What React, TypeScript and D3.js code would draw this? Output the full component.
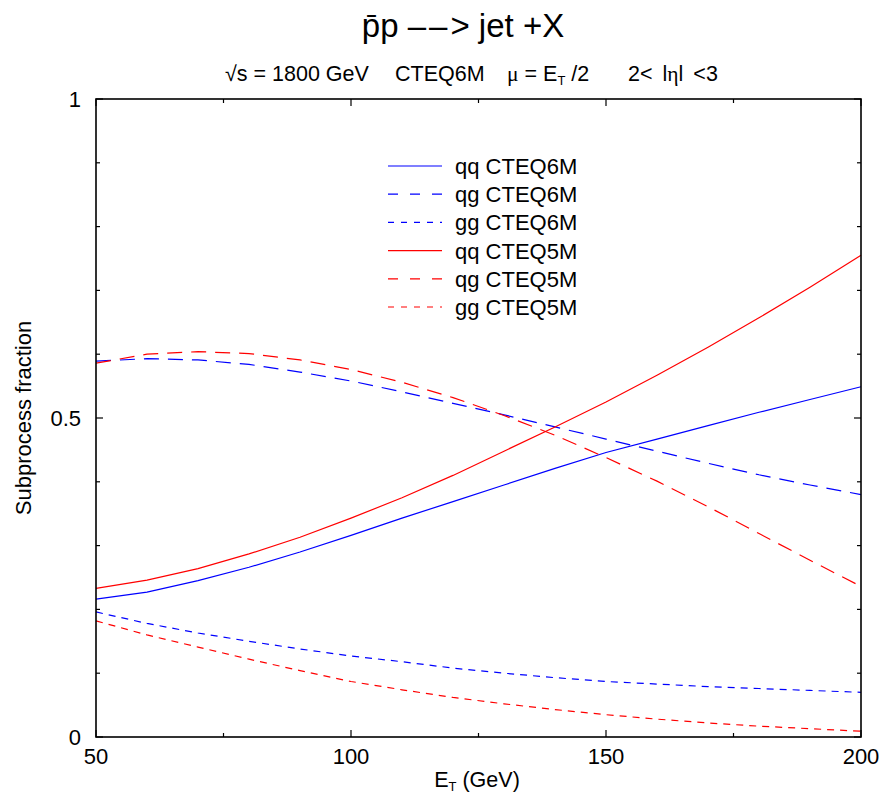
import React from "react";
import * as d3 from "d3";

const energies = [50, 60, 70, 80, 90, 100, 110, 120, 130, 140, 150, 160, 170, 180, 190, 200];
const qqCTEQ6M = [0.216, 0.227, 0.245, 0.266, 0.290, 0.316, 0.343, 0.369, 0.395, 0.421, 0.446, 0.467, 0.488, 0.509, 0.529, 0.549];
const qgCTEQ6M = [0.589, 0.593, 0.591, 0.584, 0.572, 0.558, 0.541, 0.523, 0.505, 0.486, 0.467, 0.448, 0.429, 0.411, 0.395, 0.380];
const ggCTEQ6M = [0.196, 0.178, 0.163, 0.150, 0.138, 0.127, 0.118, 0.108, 0.100, 0.093, 0.087, 0.083, 0.079, 0.076, 0.073, 0.070];
const qqCTEQ5M = [0.233, 0.246, 0.264, 0.287, 0.313, 0.343, 0.375, 0.410, 0.448, 0.486, 0.525, 0.567, 0.611, 0.657, 0.705, 0.755];
const qgCTEQ5M = [0.586, 0.600, 0.604, 0.601, 0.591, 0.576, 0.556, 0.532, 0.504, 0.473, 0.438, 0.401, 0.361, 0.319, 0.277, 0.236];
const ggCTEQ5M = [0.182, 0.160, 0.141, 0.122, 0.104, 0.087, 0.074, 0.062, 0.052, 0.043, 0.035, 0.028, 0.022, 0.017, 0.013, 0.009];

const xMajorTicks = [50, 100, 150, 200];
const xMinorTicks = [75, 125, 175];
const yMajorTicks = [0, 0.5, 1];
const yMinorTicks = [0.1, 0.2, 0.3, 0.4, 0.6, 0.7, 0.8, 0.9];
const yTickLabels = ["0", "0.5", "1"];

const seriesNames = ["qq CTEQ6M", "qg CTEQ6M", "gg CTEQ6M", "qq CTEQ5M", "qg CTEQ5M", "gg CTEQ5M"];
const seriesValues = [qqCTEQ6M, qgCTEQ6M, ggCTEQ6M, qqCTEQ5M, qgCTEQ5M, ggCTEQ5M];
const seriesColors = ["#0000ff", "#0000ff", "#0000ff", "#ff0000", "#ff0000", "#ff0000"];
const seriesDash = ["none", "15,9", "7,6", "none", "15,9", "7,6"];
const legendDash = ["none", "10,12", "6,7", "none", "10,12", "6,7"];

const FONT = "'Liberation Sans', Arial, Helvetica, sans-serif";

export default function App() {
  const left = 96, right = 861, top = 99, bottom = 737;
  const x = d3.scaleLinear().domain([50, 200]).range([left, right]);
  const y = d3.scaleLinear().domain([0, 1]).range([bottom, top]);
  const line = d3
    .line<[number, number]>()
    .x((d) => x(d[0]))
    .y((d) => y(d[1]))
    .curve(d3.curveLinear);

  const legendY0 = 166;
  const legendStep = 28.2;

  return (
    <svg
      width={894}
      height={802}
      style={{ position: "absolute", left: 0, top: 0, background: "#fff" }}
      fontFamily={FONT}
    >
      <rect x={0} y={0} width={894} height={802} fill="#fff" />
      {/* Title */}
      <text x={463} y={37} fontSize={33} textAnchor="middle" fill="#000">
        <tspan>{"p\u0304p "}</tspan>
        <tspan letterSpacing={3}>{"\u2013\u2013"}</tspan>
        <tspan>{"> jet +X"}</tspan>
      </text>
      {/* Subtitle */}
      <g fontSize={21.5} fill="#000">
        <text x={225} y={81}>{"\u221As = 1800 GeV"}</text>
        <text x={395} y={81}>CTEQ6M</text>
        <text x={507} y={81}>
          <tspan fontFamily="'Liberation Serif', serif">{"\u03BC"}</tspan>
          <tspan>{" = E"}</tspan>
          <tspan fontSize={13} dy={4}>T</tspan>
          <tspan dy={-4}>{" /2"}</tspan>
        </text>
        <text x={628} y={81}>
          <tspan>{"2<"}</tspan>
          <tspan dx={10}>{"l"}</tspan>
          <tspan fontFamily="'Liberation Serif', serif">{"\u03B7"}</tspan>
          <tspan>{"l"}</tspan>
          <tspan dx={10}>{"<3"}</tspan>
        </text>
      </g>

      {/* Curves */}
      <g>
        {seriesValues.map((vals, i) => (
          <path
            key={seriesNames[i] + i}
            d={line(energies.map((e, j) => [e, vals[j]] as [number, number])) || ""}
            fill="none"
            stroke={seriesColors[i]}
            strokeWidth={1.2}
            strokeDasharray={seriesDash[i]}
          />
        ))}
      </g>

      {/* Frame */}
      <rect x={left} y={top} width={right - left} height={bottom - top} fill="none" stroke="#000" strokeWidth={1.6} />

      {/* Ticks */}
      <g stroke="#000" strokeWidth={1.2}>
        {xMajorTicks.map((t) => (
          <g key={"xm" + t}>
            <line x1={x(t)} x2={x(t)} y1={bottom} y2={bottom - 7} />
            <line x1={x(t)} x2={x(t)} y1={top} y2={top + 7} />
          </g>
        ))}
        {xMinorTicks.map((t) => (
          <g key={"xn" + t}>
            <line x1={x(t)} x2={x(t)} y1={bottom} y2={bottom - 4} />
            <line x1={x(t)} x2={x(t)} y1={top} y2={top + 4} />
          </g>
        ))}
        {yMajorTicks.map((t) => (
          <g key={"ym" + t}>
            <line x1={left} x2={left + 7} y1={y(t)} y2={y(t)} />
            <line x1={right} x2={right - 7} y1={y(t)} y2={y(t)} />
          </g>
        ))}
        {yMinorTicks.map((t) => (
          <g key={"yn" + t}>
            <line x1={left} x2={left + 4} y1={y(t)} y2={y(t)} />
            <line x1={right} x2={right - 4} y1={y(t)} y2={y(t)} />
          </g>
        ))}
      </g>

      {/* Tick labels */}
      <g fontSize={22} fill="#000">
        {xMajorTicks.map((t) => (
          <text key={"xl" + t} x={x(t)} y={764} textAnchor="middle">
            {String(t)}
          </text>
        ))}
        {yMajorTicks.map((t, i) => (
          <text key={"yl" + t} x={81} y={y(t) + 8} textAnchor="end">
            {yTickLabels[i]}
          </text>
        ))}
      </g>

      {/* Axis titles */}
      <text x={477} y={787} fontSize={21.5} textAnchor="middle" fill="#000">
        <tspan>E</tspan>
        <tspan fontSize={13} dy={4}>T</tspan>
        <tspan dy={-4}>{" (GeV)"}</tspan>
      </text>
      <text
        transform={`translate(31, ${(top + bottom) / 2}) rotate(-90)`}
        fontSize={22}
        textAnchor="middle"
        fill="#000"
      >
        Subprocess fraction
      </text>

      {/* Legend */}
      <g>
        {seriesNames.map((name, i) => {
          const ly = legendY0 + i * legendStep;
          return (
            <g key={"lg" + i}>
              <line
                x1={388}
                x2={442}
                y1={ly}
                y2={ly}
                stroke={seriesColors[i]}
                strokeWidth={1.2}
                strokeDasharray={legendDash[i]}
              />
              <text x={455} y={ly + 8} fontSize={22} fill="#000">
                {name}
              </text>
            </g>
          );
        })}
      </g>
    </svg>
  );
}
